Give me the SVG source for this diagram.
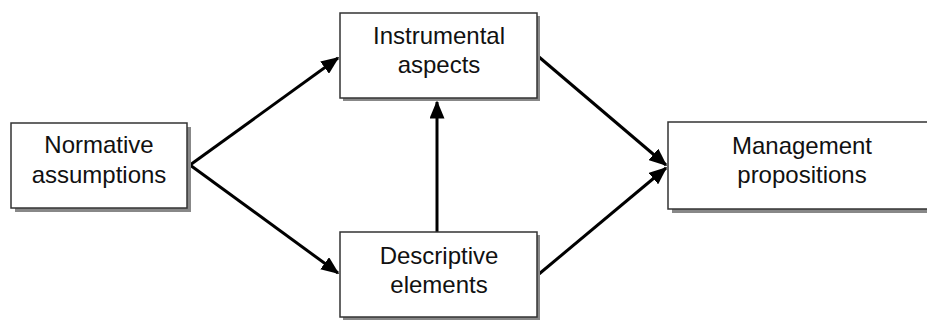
<svg xmlns="http://www.w3.org/2000/svg" width="927" height="320" viewBox="0 0 927 320">
<style>
.box{fill:#fff;stroke:#333;stroke-width:1.5}
.shadow{fill:#888}
.t{font-family:"Liberation Sans",Arial,sans-serif;font-size:24px;fill:#111;text-anchor:middle}
.c{stroke:#000;stroke-width:3;fill:none;marker-end:url(#ah)}
</style>
<defs>
<marker id="ah" markerWidth="6" markerHeight="5" refX="5.5" refY="2.5" orient="auto" markerUnits="strokeWidth">
<path d="M0,0 L6,2.5 L0,5 Z" fill="#000"/>
</marker>
</defs>
<rect width="927" height="320" fill="#fff"/>
<g id="connectors">
<line class="c" x1="190" y1="165" x2="338" y2="58"/>
<line class="c" x1="190" y1="165" x2="338" y2="273"/>
<line class="c" x1="437" y1="232" x2="437" y2="102"/>
<line class="c" x1="539" y1="57" x2="666" y2="165"/>
<line class="c" x1="539" y1="274" x2="666" y2="168"/>
</g>
<g id="normative">
<rect class="shadow" x="15" y="127" width="176" height="85"/>
<rect class="box" x="11" y="123" width="176" height="85"/>
<text class="t" x="99" y="153">Normative</text>
<text class="t" x="99" y="183">assumptions</text>
</g>
<g id="instrumental">
<rect class="shadow" x="343" y="16" width="197" height="85"/>
<rect class="box" x="340" y="13" width="197" height="85"/>
<text class="t" x="439" y="44">Instrumental</text>
<text class="t" x="439" y="73">aspects</text>
</g>
<g id="descriptive">
<rect class="shadow" x="343" y="235" width="197" height="85"/>
<rect class="box" x="340" y="232" width="197" height="85"/>
<text class="t" x="439" y="264">Descriptive</text>
<text class="t" x="439" y="293">elements</text>
</g>
<g id="management">
<rect class="shadow" x="672" y="126" width="280" height="87"/>
<rect class="box" x="668" y="122" width="280" height="87"/>
<text class="t" x="802" y="154">Management</text>
<text class="t" x="802" y="183">propositions</text>
</g>
</svg>
